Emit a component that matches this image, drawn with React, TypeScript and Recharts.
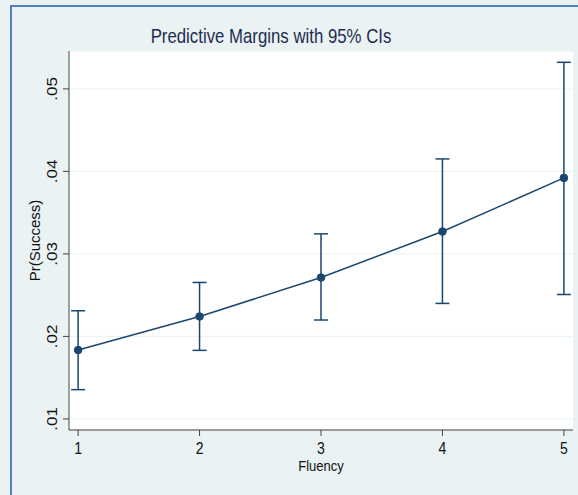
import React from "react";
import {
  ComposedChart,
  Line,
  ErrorBar,
  XAxis,
  YAxis,
  CartesianGrid,
} from "recharts";

// fluency levels and predicted margins with 95% CI bounds
const fluency = [1, 2, 3, 4, 5];
const margin = [0.01835, 0.02242, 0.02714, 0.03271, 0.03921];
const ciLow = [0.01355, 0.01831, 0.02199, 0.024, 0.02508];
const ciHigh = [0.02311, 0.02654, 0.03243, 0.04151, 0.05322];

const yTicks = [0.01, 0.02, 0.03, 0.04, 0.05];
const yTickLabels = [".01", ".02", ".03", ".04", ".05"];
const xTickLabels = ["1", "2", "3", "4", "5"];

const data = fluency.map((f, i) => ({
  x: f,
  y: margin[i],
  err: [margin[i] - ciLow[i], ciHigh[i] - margin[i]],
}));

const NAVY = "#1a476f";
const FONT = "'Liberation Sans', Arial, sans-serif";

const textStyle = (size: number) => ({
  fontSize: `${size}px`,
  fontFamily: FONT,
});

const renderXTick = (props: any) => {
  const { x, y, payload } = props;
  const i = fluency.indexOf(payload.value);
  return (
    <text
      transform={`translate(${x},${y + 15.5}) scale(0.85,1)`}
      textAnchor="middle"
      style={textStyle(16.5)}
      fill="#111"
    >
      {xTickLabels[i]}
    </text>
  );
};

const renderYTick = (props: any) => {
  const { x, y, payload } = props;
  const i = yTicks.findIndex((t) => Math.abs(t - payload.value) < 1e-9);
  return (
    <text
      transform={`translate(${x - 4},${y}) scale(0.82,1) rotate(-90)`}
      textAnchor="middle"
      style={textStyle(17)}
      fill="#111"
    >
      {yTickLabels[i]}
    </text>
  );
};

export default function App() {
  return (
    <div
      style={{
        position: "absolute",
        left: 0,
        top: 0,
        width: 578,
        height: 495,
        background: "#eaf2f3",
        overflow: "hidden",
      }}
    >
      <div
        style={{
          position: "absolute",
          left: 10,
          top: 5,
          width: 600,
          height: 520,
          borderLeft: "2px solid #4f81bd",
          borderTop: "2px solid #4f81bd",
        }}
      />
      <svg
        width={578}
        height={60}
        style={{ position: "absolute", left: 0, top: 0 }}
      >
        <text
          transform="translate(271,43.3) scale(0.84,1)"
          textAnchor="middle"
          style={textStyle(20)}
          fill="#1e2d4f"
        >
          Predictive Margins with 95% CIs
        </text>
      </svg>
      <div style={{ position: "absolute", left: 0, top: 0 }}>
        <ComposedChart
          width={578}
          height={495}
          data={data}
          margin={{ top: 51, right: 5, left: 0, bottom: 0 }}
        >
          <CartesianGrid fill="#ffffff" stroke="#eaf2f3" vertical={false} />
          <XAxis
            dataKey="x"
            type="number"
            domain={[0.925, 5.075]}
            ticks={fluency}
            height={65}
            tickSize={6}
            stroke="#444"
            tick={renderXTick}
            allowDataOverflow
            label={{
              content: (p: any) => {
                const vb = p.viewBox;
                return (
                  <text
                    transform={`translate(${vb.x + vb.width / 2},${vb.y + 40.5}) scale(0.9,1)`}
                    textAnchor="middle"
                    style={textStyle(14.5)}
                    fill="#111"
                  >
                    Fluency
                  </text>
                );
              },
            }}
          />
          <YAxis
            type="number"
            domain={[0.00866, 0.05459]}
            ticks={yTicks}
            width={69}
            tickSize={6}
            stroke="#444"
            tick={renderYTick}
            allowDataOverflow
            label={{
              content: (p: any) => {
                const vb = p.viewBox;
                return (
                  <text
                    transform={`translate(40,${vb.y + vb.height / 2}) rotate(-90)`}
                    textAnchor="middle"
                    style={textStyle(15)}
                    fill="#111"
                  >
                    Pr(Success)
                  </text>
                );
              },
            }}
          />
          <Line
            dataKey="y"
            stroke={NAVY}
            strokeWidth={1.5}
            dot={{ r: 3.8, fill: NAVY, stroke: NAVY, strokeWidth: 1 }}
            isAnimationActive={false}
          >
            <ErrorBar
              dataKey="err"
              direction="y"
              width={7}
              stroke={NAVY}
              strokeWidth={1.5}
              isAnimationActive={false}
            />
          </Line>
        </ComposedChart>
      </div>
    </div>
  );
}
